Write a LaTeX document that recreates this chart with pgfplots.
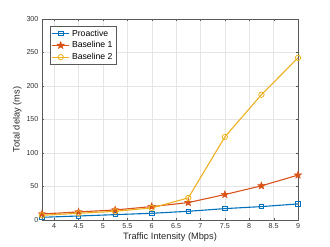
\documentclass[border=0pt]{standalone}
\usepackage{fontspec}
\setmainfont{Liberation Sans}
\usepackage{pgfplots}
\pgfplotsset{compat=1.18}
\definecolor{mb}{rgb}{0,0.447,0.741}
\definecolor{mr}{rgb}{0.85,0.325,0.098}
\definecolor{my}{rgb}{0.929,0.694,0.125}
\pgfdeclareplotmark{fstar}{\pgfpathmoveto{\pgfqpointpolar{90}{\pgfplotmarksize}}%
\pgfpathlineto{\pgfqpointpolar{126}{0.42\pgfplotmarksize}}%
\pgfpathlineto{\pgfqpointpolar{162}{\pgfplotmarksize}}%
\pgfpathlineto{\pgfqpointpolar{198}{0.42\pgfplotmarksize}}%
\pgfpathlineto{\pgfqpointpolar{234}{\pgfplotmarksize}}%
\pgfpathlineto{\pgfqpointpolar{270}{0.42\pgfplotmarksize}}%
\pgfpathlineto{\pgfqpointpolar{306}{\pgfplotmarksize}}%
\pgfpathlineto{\pgfqpointpolar{342}{0.42\pgfplotmarksize}}%
\pgfpathlineto{\pgfqpointpolar{18}{\pgfplotmarksize}}%
\pgfpathlineto{\pgfqpointpolar{54}{0.42\pgfplotmarksize}}%
\pgfpathclose\pgfusepathqfillstroke}
\begin{document}
\begin{tikzpicture}
\useasboundingbox (-42bp,-27bp) rectangle (288bp,220bp);
\begin{axis}[
  at={(0,0)}, anchor=south west,
  scale only axis, width=256bp, height=201bp,
  xmin=3.75, xmax=9, ymin=0, ymax=300,
  xtick={4,4.5,...,9}, ytick={0,50,...,300},
  xticklabels={4,4.5,5,5.5,6,6.5,7,7.5,8,8.5,9},
  /pgf/number format/assume math mode=true,
  tick align=inside, tick pos=both,
  major tick length=2.5pt,
  grid=major, grid style={gray!20, line width=0.4pt},
  axis line style={gray!70!black, line width=0.5pt},
  tick style={gray!70!black},
  ticklabel style={font=\fontsize{7.2}{8}\selectfont, text=black!80},
  xlabel={Traffic Intensity (Mbps)}, ylabel={Total delay (ms)},
  label style={font=\fontsize{9.3}{10}\selectfont, text=black!85},
  xlabel style={yshift=3pt}, ylabel style={yshift=-2pt},
  legend style={font=\fontsize{8.7}{9}\selectfont, draw=gray!70!black, line width=0.4pt, inner sep=1.5pt, row sep=0pt, at={(0.03,0.965)}, anchor=north west},
  legend cell align=left,
  legend image code/.code={\draw[#1] (0cm,0cm) -- (0.62cm,0cm); \draw[#1, only marks] plot coordinates {(0.31cm,0cm)};},
]
\addplot[mb, line width=1.1pt, mark=square, mark size=2.2pt, mark options={line width=0.8pt}] coordinates {
(3.75,4) (4.5,6) (5.25,8) (6,10) (6.75,13) (7.5,17) (8.25,20) (9,24)};
\addlegendentry{Proactive}
\addplot[mr, line width=1.1pt, mark=fstar, mark size=3.8pt, mark options={fill=mr, line width=0.5pt}] coordinates {
(3.75,9) (4.5,12) (5.25,15) (6,20) (6.75,26) (7.5,38) (8.25,51) (9,67)};
\addlegendentry{Baseline 1}
\addplot[my, line width=1.1pt, mark=o, mark size=2.7pt, mark options={line width=0.8pt}] coordinates {
(3.75,7) (4.5,10) (5.25,13) (6,18) (6.75,33) (7.5,124) (8.25,187) (9,242)};
\addlegendentry{Baseline 2}
\end{axis}
\end{tikzpicture}
\end{document}
